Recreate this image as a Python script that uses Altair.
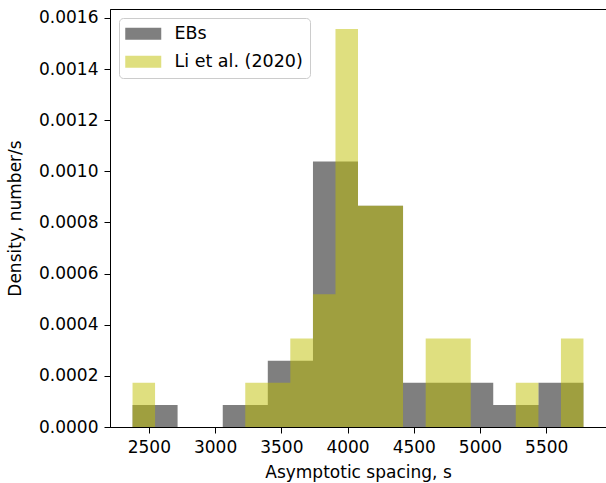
import altair as alt
import pandas as pd

# Shared histogram bin edges (asymptotic spacing, s)
bin_edges = [2377, 2547, 2717, 2888, 3058, 3228, 3398, 3568, 3739, 3909, 4079,
             4249, 4419, 4590, 4760, 4930, 5100, 5270, 5441, 5611, 5781]

# Normalised densities per bin (number/s)
eb_density = [0.0000865, 0.0000865, 0.0, 0.0, 0.0000865, 0.0000865, 0.0002595,
              0.0002595, 0.001038, 0.001038, 0.000865, 0.000865, 0.000173,
              0.000173, 0.000173, 0.000173, 0.0000865, 0.0000865, 0.000173, 0.000173]
li_density = [0.000173, 0.0, 0.0, 0.0, 0.0, 0.000173, 0.000173, 0.000346,
              0.000519, 0.001557, 0.000865, 0.000865, 0.0, 0.000346, 0.000346,
              0.0, 0.0, 0.000173, 0.0, 0.000346]

series_names = ["EBs", "Li et al. (2020)"]
series_colors = ["#000000", "#bfbf00"]

x_ticks = [2500, 3000, 3500, 4000, 4500, 5000, 5500]
y_ticks = [0.0, 0.0002, 0.0004, 0.0006, 0.0008, 0.0010, 0.0012, 0.0014, 0.0016]

# Each histogram becomes one step outline: the value of bin i is held from
# edge i to edge i+1, and the closing edge drops back to zero.
rows = []
for k, (name, dens) in enumerate(zip(series_names, [eb_density, li_density])):
    for i, edge in enumerate(bin_edges):
        d = dens[i] if i < len(dens) else 0.0
        rows.append({"series": name, "edge": edge, "density": d, "order": k})
df = pd.DataFrame(rows)

span = bin_edges[-1] - bin_edges[0]
x_domain = [bin_edges[0] - 0.05 * span, bin_edges[-1] + 0.05 * span]
y_domain = [0, max(max(eb_density), max(li_density)) * 1.05]

FONT = "DejaVu Sans"

# Wide rectangular legend patch (about 36 x 12 px at symbolSize 289)
PATCH = "M-1.118,-0.706H3.118V0.706H-1.118Z"

chart = alt.Chart(df).mark_area(opacity=0.5, interpolate="step-after").encode(
    x=alt.X("edge:Q", scale=alt.Scale(domain=x_domain, nice=False, zero=False),
            axis=alt.Axis(title="Asymptotic spacing, s", values=x_ticks, format="d",
                          titleX=248, titleY=50, titleBaseline="alphabetic",
                          titleAlign="center")),
    y=alt.Y("density:Q", scale=alt.Scale(domain=y_domain, nice=False),
            stack=None,
            axis=alt.Axis(title="Density, number/s", values=y_ticks, format=".4f",
                          titleX=-90, titleY=209, titleAngle=270,
                          titleBaseline="alphabetic", titleAlign="center")),
    color=alt.Color("series:N",
                    scale=alt.Scale(domain=series_names, range=series_colors),
                    legend=alt.Legend(title=None, orient="none", legendX=9, legendY=9,
                                      symbolType=PATCH, symbolSize=289,
                                      symbolOpacity=0.5, symbolStrokeWidth=0,
                                      labelOffset=31, labelFontSize=17.5, labelFont=FONT,
                                      labelColor="#000000", rowPadding=9,
                                      padding=7, cornerRadius=4,
                                      strokeColor="#cccccc",
                                      fillColor="rgba(255,255,255,0.8)")),
    order=alt.Order("order:Q"),
).properties(
    width=496,
    height=418,
    padding={"left": 110, "top": 9, "right": 0, "bottom": 56},
    autosize="none",
).configure_view(
    stroke="#000000", strokeWidth=1
).configure_axis(
    grid=False, domainColor="#000000", domainWidth=1,
    tickColor="#000000", tickSize=6, tickWidth=1,
    labelFont=FONT, labelFontSize=17, labelColor="#000000", labelPadding=6,
    titleFont=FONT, titleFontSize=17, titleColor="#000000", titleFontWeight="normal",
)

chart.save("out.html", embed_options={"renderer": "svg", "actions": False})
